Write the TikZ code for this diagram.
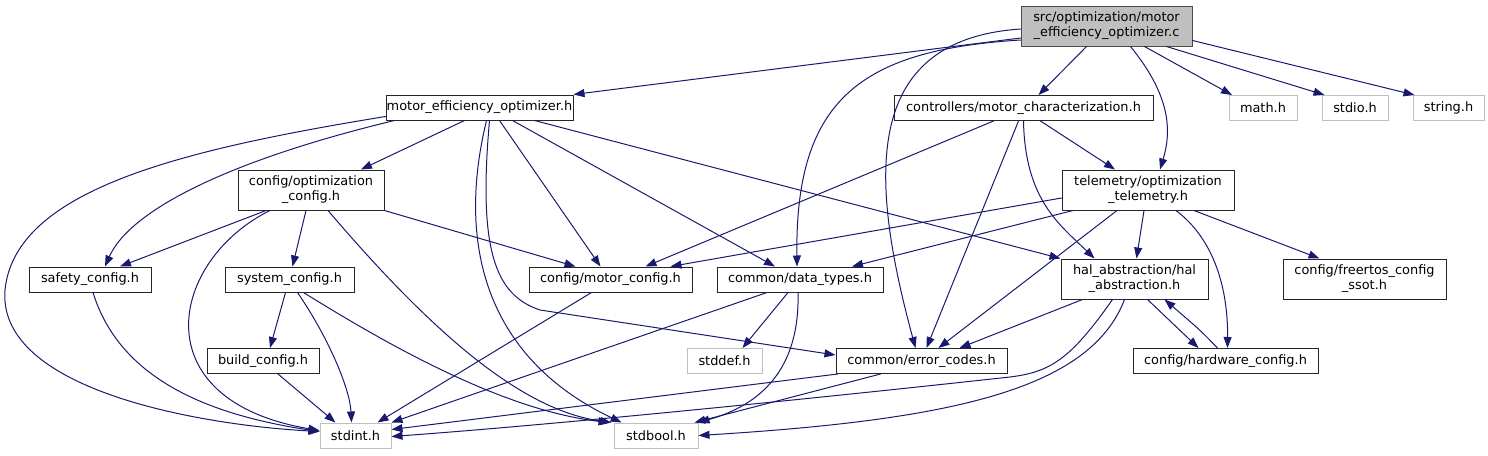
\documentclass[tikz,border=0pt]{standalone}
\usepackage{fontspec}
\setmainfont{DejaVu Sans}
\usetikzlibrary{arrows.meta}
\definecolor{incblue}{HTML}{191970}
\definecolor{sysgray}{HTML}{BFBFBF}
\definecolor{srcgray}{HTML}{BFBFBF}

\begin{document}
\begin{tikzpicture}[x=1pt,y=-1pt,line cap=round,
        hfile/.style={draw=black!85,line width=1pt,fill=white,inner sep=0pt,minimum height=25pt,align=center,font={\fontsize{12.9}{15}\selectfont}},
        twoline/.style={minimum height=40pt},
        sysfile/.style={hfile,draw=sysgray},
        srcfile/.style={hfile,twoline,fill=srcgray,draw=black!70},
        inc/.style={draw=incblue,line width=1pt,-{Triangle[length=11pt,width=8pt]},fill=none}]
        \useasboundingbox (0,0) rectangle (1488,455);

        \node[srcfile,minimum width=171pt] (src) at (1106.5,26) {src/optimization/motor\\\_efficiency\_optimizer.c};

        \node[hfile,minimum width=187pt] (meo) at (479.5,107.5) {motor\_efficiency\_optimizer.h};
        \node[hfile,minimum width=259pt] (ctrl) at (1023.5,108) {controllers/motor\_characterization.h};
        \foreach \nm/\x/\w in {math/1263/68,stdio/1355/66,string/1448.5/71}{
            \node[sysfile,minimum width=\w pt] (\nm) at (\x,108) {\nm.h};
        }

        \node[hfile,twoline,minimum width=146pt] (optcfg) at (311,190) {config/optimization\\\_config.h};
        \node[hfile,twoline,minimum width=172pt] (telem) at (1148,190) {telemetry/optimization\\\_telemetry.h};

        \node[hfile,minimum width=122pt] (safety) at (90,279.5) {safety\_config.h};
        \node[hfile,minimum width=129pt] (syscfg) at (289.5,279.5) {system\_config.h};
        \node[hfile,minimum width=163pt] (motorcfg) at (610.5,279.5) {config/motor\_config.h};
        \node[hfile,minimum width=166pt] (dtypes) at (800,279.5) {common/data\_types.h};
        \node[hfile,twoline,minimum width=147pt] (hal) at (1134.5,279) {hal\_abstraction/hal\\\_abstraction.h};
        \node[hfile,twoline,minimum width=163pt] (freertos) at (1364.5,279) {config/freertos\_config\\\_ssot.h};

        \node[hfile,minimum width=112pt] (buildcfg) at (263,361) {build\_config.h};
        \node[sysfile,minimum width=75pt] (stddef) at (724.5,361) {stddef.h};
        \node[hfile,minimum width=171pt] (errcodes) at (921.5,361) {common/error\_codes.h};
        \node[hfile,minimum width=185pt] (hwcfg) at (1225.5,361) {config/hardware\_config.h};

        \node[sysfile,minimum width=71pt] (stdint) at (355.5,435.5) {stdint.h};
        \node[sysfile,minimum width=84pt] (stdbool) at (656,435.5) {stdbool.h};

        \draw[inc] ([yshift=-12pt]src.west) -- (meo.north east);
        \draw[inc] ([xshift=-20pt]src.south) -- ([xshift=15pt]ctrl.north);
        \draw[inc] ([xshift=24pt]src.south) .. controls (1170,95) and (1172,130) .. ([xshift=12pt]telem.north);
        \draw[inc] ([xshift=38pt]src.south) -- ([xshift=-31pt]math.north);
        \draw[inc] ([xshift=60pt]src.south) -- ([xshift=3pt]stdio.north west);
        \draw[inc] ([yshift=6pt]src.south east) -- ([xshift=2pt]string.north west);
        \draw[inc] ([yshift=-14pt]src.west) .. controls (860,50) and (795,100) .. ([xshift=-3pt]dtypes.north);
        \draw[inc] ([yshift=-3pt]src.west) .. controls (860,40) and (870,180) .. ([xshift=-6pt]errcodes.north);

        \draw[inc] ([yshift=-9pt]meo.west) .. controls (180,150) and (15,190) .. (5,290) .. controls (-3,390) and (200,425) .. ([yshift=4pt]stdint.west);
        \draw[inc] ([xshift=-85pt]meo.south) .. controls (230,160) and (130,210) .. ([xshift=15pt]safety.north);
        \draw[inc] ([xshift=-15pt]meo.south) -- ([xshift=50pt]optcfg.north);
        \draw[inc] ([xshift=7pt]meo.south) .. controls (455,250) and (490,360) .. ([xshift=8pt]stdbool.north west);
        \draw[inc] ([xshift=10pt]meo.south) .. controls (478,250) and (495,295) .. (540,310) -- ([yshift=6pt]errcodes.west);
        \draw[inc] ([xshift=20pt]meo.south) -- ([xshift=-10pt]motorcfg.north);
        \draw[inc] ([xshift=33pt]meo.south) -- ([xshift=-25pt]dtypes.north);
        \draw[inc] ([xshift=55pt]meo.south) -- (hal.north west);

        \draw[inc] ([xshift=-45pt]optcfg.south) -- ([xshift=30pt]safety.north);
        \draw[inc] ([xshift=-41pt]optcfg.south) .. controls (170,260) and (140,400) .. ([yshift=5pt]stdint.west);
        \draw[inc] ([xshift=-5pt]optcfg.south) -- ([xshift=3pt]syscfg.north);
        \draw[inc] ([xshift=17pt]optcfg.south) .. controls (430,330) and (520,410) .. ([xshift=-2pt]stdbool.north west);
        \draw[inc] (optcfg.south east) -- ([xshift=-35pt]motorcfg.north);

        \draw[inc] ([xshift=-30pt]ctrl.south) -- ([xshift=35pt]motorcfg.north);
        \draw[inc] ([xshift=-5pt]ctrl.south) -- ([xshift=5pt]errcodes.north);
        \draw[inc] (ctrl.south) .. controls (1025,200) and (1060,225) .. ([xshift=-40pt]hal.north);
        \draw[inc] ([xshift=17pt]ctrl.south) -- ([xshift=-33pt]telem.north);

        \draw[inc] ([yshift=-8pt]telem.west) -- ([xshift=60pt]motorcfg.north);
        \draw[inc] ([xshift=-75pt]telem.south) -- ([xshift=52pt]dtypes.north);
        \draw[inc] ([xshift=-31pt]telem.south) -- ([xshift=17pt]errcodes.north);
        \draw[inc] ([xshift=-4pt]telem.south) -- ([xshift=2pt]hal.north);
        \draw[inc] ([xshift=28pt]telem.south) .. controls (1215,240) and (1228,290) .. ([xshift=2pt]hwcfg.north);
        \draw[inc] ([xshift=46pt]telem.south) -- ([xshift=-45pt]freertos.north);

        \draw[inc] ([xshift=3pt]safety.south) .. controls (120,380) and (210,415) .. ([yshift=4pt]stdint.west);

        \draw[inc] ([xshift=-4pt]syscfg.south) -- ([xshift=7pt]buildcfg.north);
        \draw[inc] ([xshift=8pt]syscfg.south) .. controls (330,340) and (350,390) .. ([xshift=-4pt]stdint.north);
        \draw[inc] ([xshift=14pt]syscfg.south) .. controls (380,340) and (500,410) .. ([xshift=-4pt]stdbool.north west);
        \draw[inc] ([xshift=15pt]buildcfg.south) -- ([xshift=-20pt]stdint.north);

        \draw[inc] ([xshift=-19pt]motorcfg.south) -- ([xshift=22pt]stdint.north);

        \draw[inc] ([xshift=-33pt]dtypes.south) -- (stdint.north east);
        \draw[inc] ([xshift=-12pt]dtypes.south) -- ([xshift=18pt]stddef.north);
        \draw[inc] ([xshift=-2pt]dtypes.south) .. controls (800,370) and (760,405) .. (stdbool.north east);

        \draw[inc] ([xshift=-84pt]errcodes.south) -- ([yshift=6pt]stdint.east);
        \draw[inc] ([xshift=-41pt]errcodes.south) -- ([xshift=-4pt]stdbool.north east);

        \draw[inc] ([xshift=-52pt]hal.south) -- ([xshift=38pt]errcodes.north);
        \draw[inc] ([xshift=-22pt]hal.south) .. controls (1070,360) and (1050,372) .. (1010,377) .. controls (800,400) and (550,425) .. ([yshift=-1pt]stdint.east);
        \draw[inc] ([xshift=-10pt]hal.south) .. controls (1090,390) and (950,420) .. (stdbool.east);
        \draw[inc] ([xshift=13pt]hal.south) -- ([xshift=-27pt]hwcfg.north);
        \draw[inc] ([xshift=-8pt]hwcfg.north) .. controls (1200,330) .. ([xshift=30pt]hal.south);
    \end{tikzpicture}
\end{document}
